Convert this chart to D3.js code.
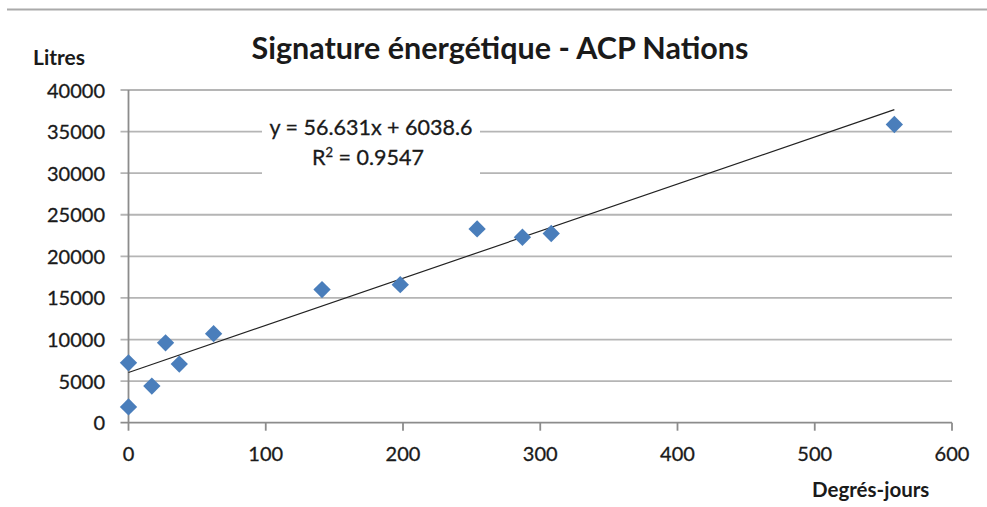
<!DOCTYPE html>
<html>
<head>
<meta charset="utf-8">
<script src="https://cdn.jsdelivr.net/npm/d3@7"></script>
<style>
  body { margin: 0; background: #fff; }
  svg { display: block; }
  text { font-family: Lato, "Open Sans", sans-serif; }
</style>
</head>
<body>
<script>
// degres-jours (x) and litres (y)
var degresJours = [0, 0, 17, 27, 37, 62, 141, 198, 254, 287, 308, 558];
var litres = [7200, 1900, 4400, 9600, 7050, 10700, 16000, 16600, 23300, 22300, 22750, 35850];
var xTicks = [0, 100, 200, 300, 400, 500, 600];
var yTicks = [0, 5000, 10000, 15000, 20000, 25000, 30000, 35000, 40000];
var slope = 56.631, intercept = 6038.6, r2 = 0.9547;

var W = 987, H = 507;

var svg = d3.select("body").append("svg")
    .attr("width", W)
    .attr("height", H);

// grey rule at the very top
svg.append("line")
    .attr("x1", 7).attr("x2", W)
    .attr("y1", 9.5).attr("y2", 9.5)
    .attr("stroke", "#aaa")
    .attr("stroke-width", 2);

var x = d3.scaleLinear().domain([0, 600]).range([128.5, 952]);
var y = d3.scaleLinear().domain([0, 40000]).range([422.7, 90]);

// gridlines
svg.append("g").selectAll("line")
    .data(yTicks)
    .enter().append("line")
      .attr("x1", x(0) - 8)
      .attr("x2", x(600))
      .attr("y1", function(d) { return y(d); })
      .attr("y2", function(d) { return y(d); })
      .attr("stroke", function(d) { return d === 0 ? "#8c8c8c" : "#b5b5b5"; })
      .attr("stroke-width", 1.8);

// y axis line
svg.append("line")
    .attr("x1", x(0)).attr("x2", x(0))
    .attr("y1", y(40000)).attr("y2", y(0))
    .attr("stroke", "#8c8c8c")
    .attr("stroke-width", 1.8);

// x tick marks
svg.append("g").selectAll("line")
    .data(xTicks)
    .enter().append("line")
      .attr("x1", function(d) { return x(d); })
      .attr("x2", function(d) { return x(d); })
      .attr("y1", y(0))
      .attr("y2", y(0) + 8)
      .attr("stroke", "#8c8c8c")
      .attr("stroke-width", 1.8);

// tick labels
svg.append("g").selectAll("text")
    .data(yTicks)
    .enter().append("text")
      .text(function(d) { return d; })
      .attr("x", 105)
      .attr("y", function(d) { return y(d) + 7.5; })
      .attr("text-anchor", "end")
      .attr("font-size", 20)
      .attr("fill", "#1a1a1a")
      .attr("stroke", "#1a1a1a")
      .attr("stroke-width", 0.3);

svg.append("g").selectAll("text")
    .data(xTicks)
    .enter().append("text")
      .text(function(d) { return d; })
      .attr("x", function(d) { return x(d); })
      .attr("y", 461)
      .attr("text-anchor", "middle")
      .attr("font-size", 20)
      .attr("fill", "#1a1a1a")
      .attr("stroke", "#1a1a1a")
      .attr("stroke-width", 0.3);

// trendline from the equation
svg.append("line")
    .attr("x1", x(0))
    .attr("y1", y(intercept))
    .attr("x2", x(d3.max(degresJours)))
    .attr("y2", y(slope * d3.max(degresJours) + intercept))
    .attr("stroke", "#222")
    .attr("stroke-width", 1.2);

// equation label box
svg.append("rect")
    .attr("x", 262).attr("y", 112)
    .attr("width", 218).attr("height", 66)
    .attr("fill", "#fff");

svg.append("text")
    .text("y = " + slope + "x + " + intercept)
    .attr("x", 371).attr("y", 135)
    .attr("text-anchor", "middle")
    .attr("font-size", 21.5)
    .attr("fill", "#1a1a1a")
    .attr("stroke", "#1a1a1a")
    .attr("stroke-width", 0.3);

var r2Text = svg.append("text")
    .attr("x", 368).attr("y", 165)
    .attr("text-anchor", "middle")
    .attr("font-size", 21.5)
    .attr("fill", "#1a1a1a")
    .attr("stroke", "#1a1a1a")
    .attr("stroke-width", 0.3);
r2Text.append("tspan").text("R");
r2Text.append("tspan").text("2").attr("font-size", 13).attr("dy", -8);
r2Text.append("tspan").text(" = " + r2).attr("dy", 8);

// points
var pts = degresJours.map(function(d, i) { return [d, litres[i]]; });
svg.append("g").selectAll("path")
    .data(pts)
    .enter().append("path")
      .attr("d", d3.symbol().type(d3.symbolSquare).size(150))
      .attr("transform", function(d) {
          return "translate(" + x(d[0]) + "," + y(d[1]) + ") rotate(45)";
      })
      .attr("fill", "#4a7ebb");

// titles
svg.append("text")
    .text("Signature énergétique - ACP Nations")
    .attr("x", 500).attr("y", 59)
    .attr("text-anchor", "middle")
    .attr("font-size", 30.5)
    .attr("font-weight", "bold")
    .attr("fill", "#1a1a1a");

svg.append("text")
    .text("Litres")
    .attr("x", 33).attr("y", 65)
    .attr("font-size", 21)
    .attr("font-weight", "bold")
    .attr("fill", "#1a1a1a");

svg.append("text")
    .text("Degrés-jours")
    .attr("x", 812).attr("y", 497)
    .attr("font-size", 20.5)
    .attr("font-weight", "bold")
    .attr("fill", "#1a1a1a");
</script>
</body>
</html>
